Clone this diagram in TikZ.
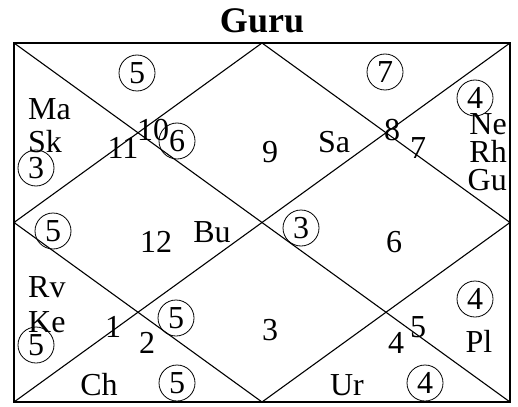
\documentclass[tikz,border=0pt]{standalone}
\usepackage{fontspec}
\setmainfont{Liberation Serif}
\usetikzlibrary{positioning}

\begin{document}
\begin{tikzpicture}[x=1pt, y=-1pt,
      line/.style={line width=1.1pt},
      lbl/.style={font=\fontsize{32}{34}\selectfont, inner sep=0pt, anchor=base},
      ring/.style={circle, draw, line width=0.8pt, minimum size=36pt, inner sep=0pt,
                   font=\fontsize{32}{34}\selectfont}]
    \useasboundingbox (0,0) rectangle (518,406);
    % frame of the chart
    \coordinate (tl) at (14,43);  \coordinate (tr) at (510,43);
    \coordinate (bl) at (14,402); \coordinate (br) at (510,402);
    \coordinate (tm) at (262,43); \coordinate (bm) at (262,402);
    \coordinate (lm) at (14,222.5); \coordinate (rm) at (510,222.5);
    \draw[line width=1.5pt] (tl) rectangle (br);
    \draw[line] (tl) -- (br); \draw[line] (tr) -- (bl);
    \draw[line] (tm) -- (lm) -- (bm) -- (rm) -- cycle;
    \node[font=\bfseries\fontsize{36}{38}\selectfont, inner sep=0pt, anchor=base] (title) at (262,33) {Guru};
    % house numbers
    \node[lbl] (h1) at (113,337) {1};
    \node[lbl] (h2) at (147,353) {2};
    \node[lbl] (h3) at (270,340) {3};
    \node[lbl] (h4) at (396,353) {4};
    \node[lbl] (h5) at (418,337) {5};
    \node[lbl] (h6) at (394,252) {6};
    \node[lbl] (h7) at (418,158) {7};
    \node[lbl] (h8) at (392,140) {8};
    \node[lbl] (h9) at (270,162) {9};
    \node[lbl] (h10) at (153,140) {10};
    \node[lbl] (h11) at (123,158) {11};
    \node[lbl] (h12) at (156,252) {12};
    % planets
    \node[lbl, anchor=base west] (ma) at (28,120) {Ma};
    \node[lbl, anchor=base west] (sk) at (28,152) {Sk};
    \node[lbl] (sa) at (334,152) {Sa};
    \node[lbl, anchor=base east] (ne) at (507,135) {Ne};
    \node[lbl, anchor=base east] (rh) at (507,162) {Rh};
    \node[lbl, anchor=base east] (gu) at (507,190) {Gu};
    \node[lbl] (bu) at (212,242) {Bu};
    \node[lbl, anchor=base west] (rv) at (28,297) {Rv};
    \node[lbl, anchor=base west] (ke) at (28,332) {Ke};
    \node[lbl] (pl) at (479,352) {Pl};
    \node[lbl] (ch) at (99,395) {Ch};
    \node[lbl] (ur) at (347,395) {Ur};
    % circled counts
    \node[ring] (c10) at (137,73) {5};
    \node[ring] (c8) at (385,72) {7};
    \node[ring] (c11) at (36,168) {3};
    \node[ring] (c9) at (177,141) {6};
    \node[ring] (c7) at (475,98) {4};
    \node[ring] (c12) at (53,231) {5};
    \node[ring] (c6) at (301,228) {3};
    \node[ring] (c3) at (176,318) {5};
    \node[ring] (c1) at (36,345) {5};
    \node[ring] (c5) at (475,299) {4};
    \node[ring] (c2) at (177,383) {5};
    \node[ring] (c4) at (425,383) {4};
  \end{tikzpicture}
\end{document}
